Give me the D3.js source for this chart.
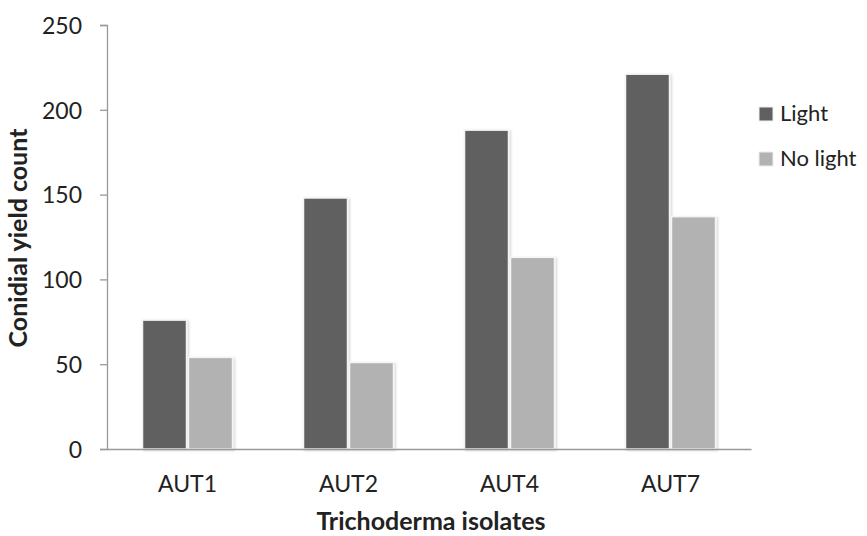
<!DOCTYPE html>
<html><head><meta charset="utf-8">
<script src="https://cdn.jsdelivr.net/npm/d3@7"></script>
<style>body{margin:0;background:#fff}svg{display:block}text{font-family:Lato,"Open Sans",sans-serif;fill:#222}</style>
</head><body><svg id="c" width="867" height="536"></svg>
<script>
const categories = ["AUT1","AUT2","AUT4","AUT7"];
const seriesNames = ["Light","No light"];
const lightValues = [76, 148, 188, 221];
const noLightValues = [54, 51, 113, 137];
const yTicks = [0,50,100,150,200,250];
const colors = ["#606060","#b2b2b2"];

(function(){
const svg = d3.select("#c");
const defs = svg.append("defs");
const f = defs.append("filter").attr("id","sh").attr("x","-20%").attr("y","-5%").attr("width","140%").attr("height","110%");
f.append("feDropShadow").attr("dx",1.5).attr("dy",1).attr("stdDeviation",1.2).attr("flood-color","#000").attr("flood-opacity",0.18);

const pL=107, pR=751, pT=25, pB=449;
const y = d3.scaleLinear().domain([0,250]).range([pB, pT]);
const x0 = d3.scaleBand().domain(categories).range([pL,pR]).paddingInner(0.441).paddingOuter(0.2205);
const x1 = d3.scaleBand().domain(seriesNames).range([0,x0.bandwidth()]).paddingInner(0.0435);

const data = categories.map((c,i)=>({cat:c, vals:[lightValues[i], noLightValues[i]]}));

const g = svg.append("g");
data.forEach(d=>{
  d.vals.forEach((v,j)=>{
    g.append("rect")
      .attr("x", x0(d.cat)+x1(seriesNames[j]))
      .attr("y", y(v))
      .attr("width", x1.bandwidth())
      .attr("height", y(0)-y(v))
      .attr("fill", colors[j])
      .attr("stroke","#f4f4f4").attr("stroke-width",1.5)
      .attr("filter","url(#sh)");
  });
});

const ya = svg.append("g").attr("transform",`translate(${pL},0)`)
  .call(d3.axisLeft(y).tickValues(yTicks).tickSize(7).tickPadding(18));
ya.select(".domain").attr("stroke","#999").attr("stroke-width",1.3);
ya.selectAll(".tick line").attr("stroke","#999").attr("stroke-width",1.3);
ya.selectAll(".tick text").style("font-size","23px").attr("fill","#222").attr("dy","0.36em");

const xa = svg.append("g").attr("transform",`translate(0,${pB})`)
  .call(d3.axisBottom(x0).tickSize(0).tickPadding(27));
xa.select(".domain").attr("stroke","#999").attr("stroke-width",1.3);
xa.selectAll(".tick text").style("font-size","23px").attr("fill","#222");

svg.append("text").attr("transform","translate(27,238) rotate(-90)")
  .attr("text-anchor","middle").style("font-size","25px").style("font-weight","bold").text("Conidial yield count");
svg.append("text").attr("x",431).attr("y",530)
  .attr("text-anchor","middle").style("font-size","25px").style("font-weight","bold").text("Trichoderma isolates");

const lg = svg.append("g");
seriesNames.forEach((s,i)=>{
  const yy = 107 + i*45;
  lg.append("rect").attr("x",759).attr("y",yy).attr("width",14).attr("height",14)
    .attr("fill",colors[i]).attr("stroke","#eee").attr("stroke-width",1);
  lg.append("text").attr("x",780).attr("y",yy+14).style("font-size","22px").text(s);
});
})();
</script></body></html>
